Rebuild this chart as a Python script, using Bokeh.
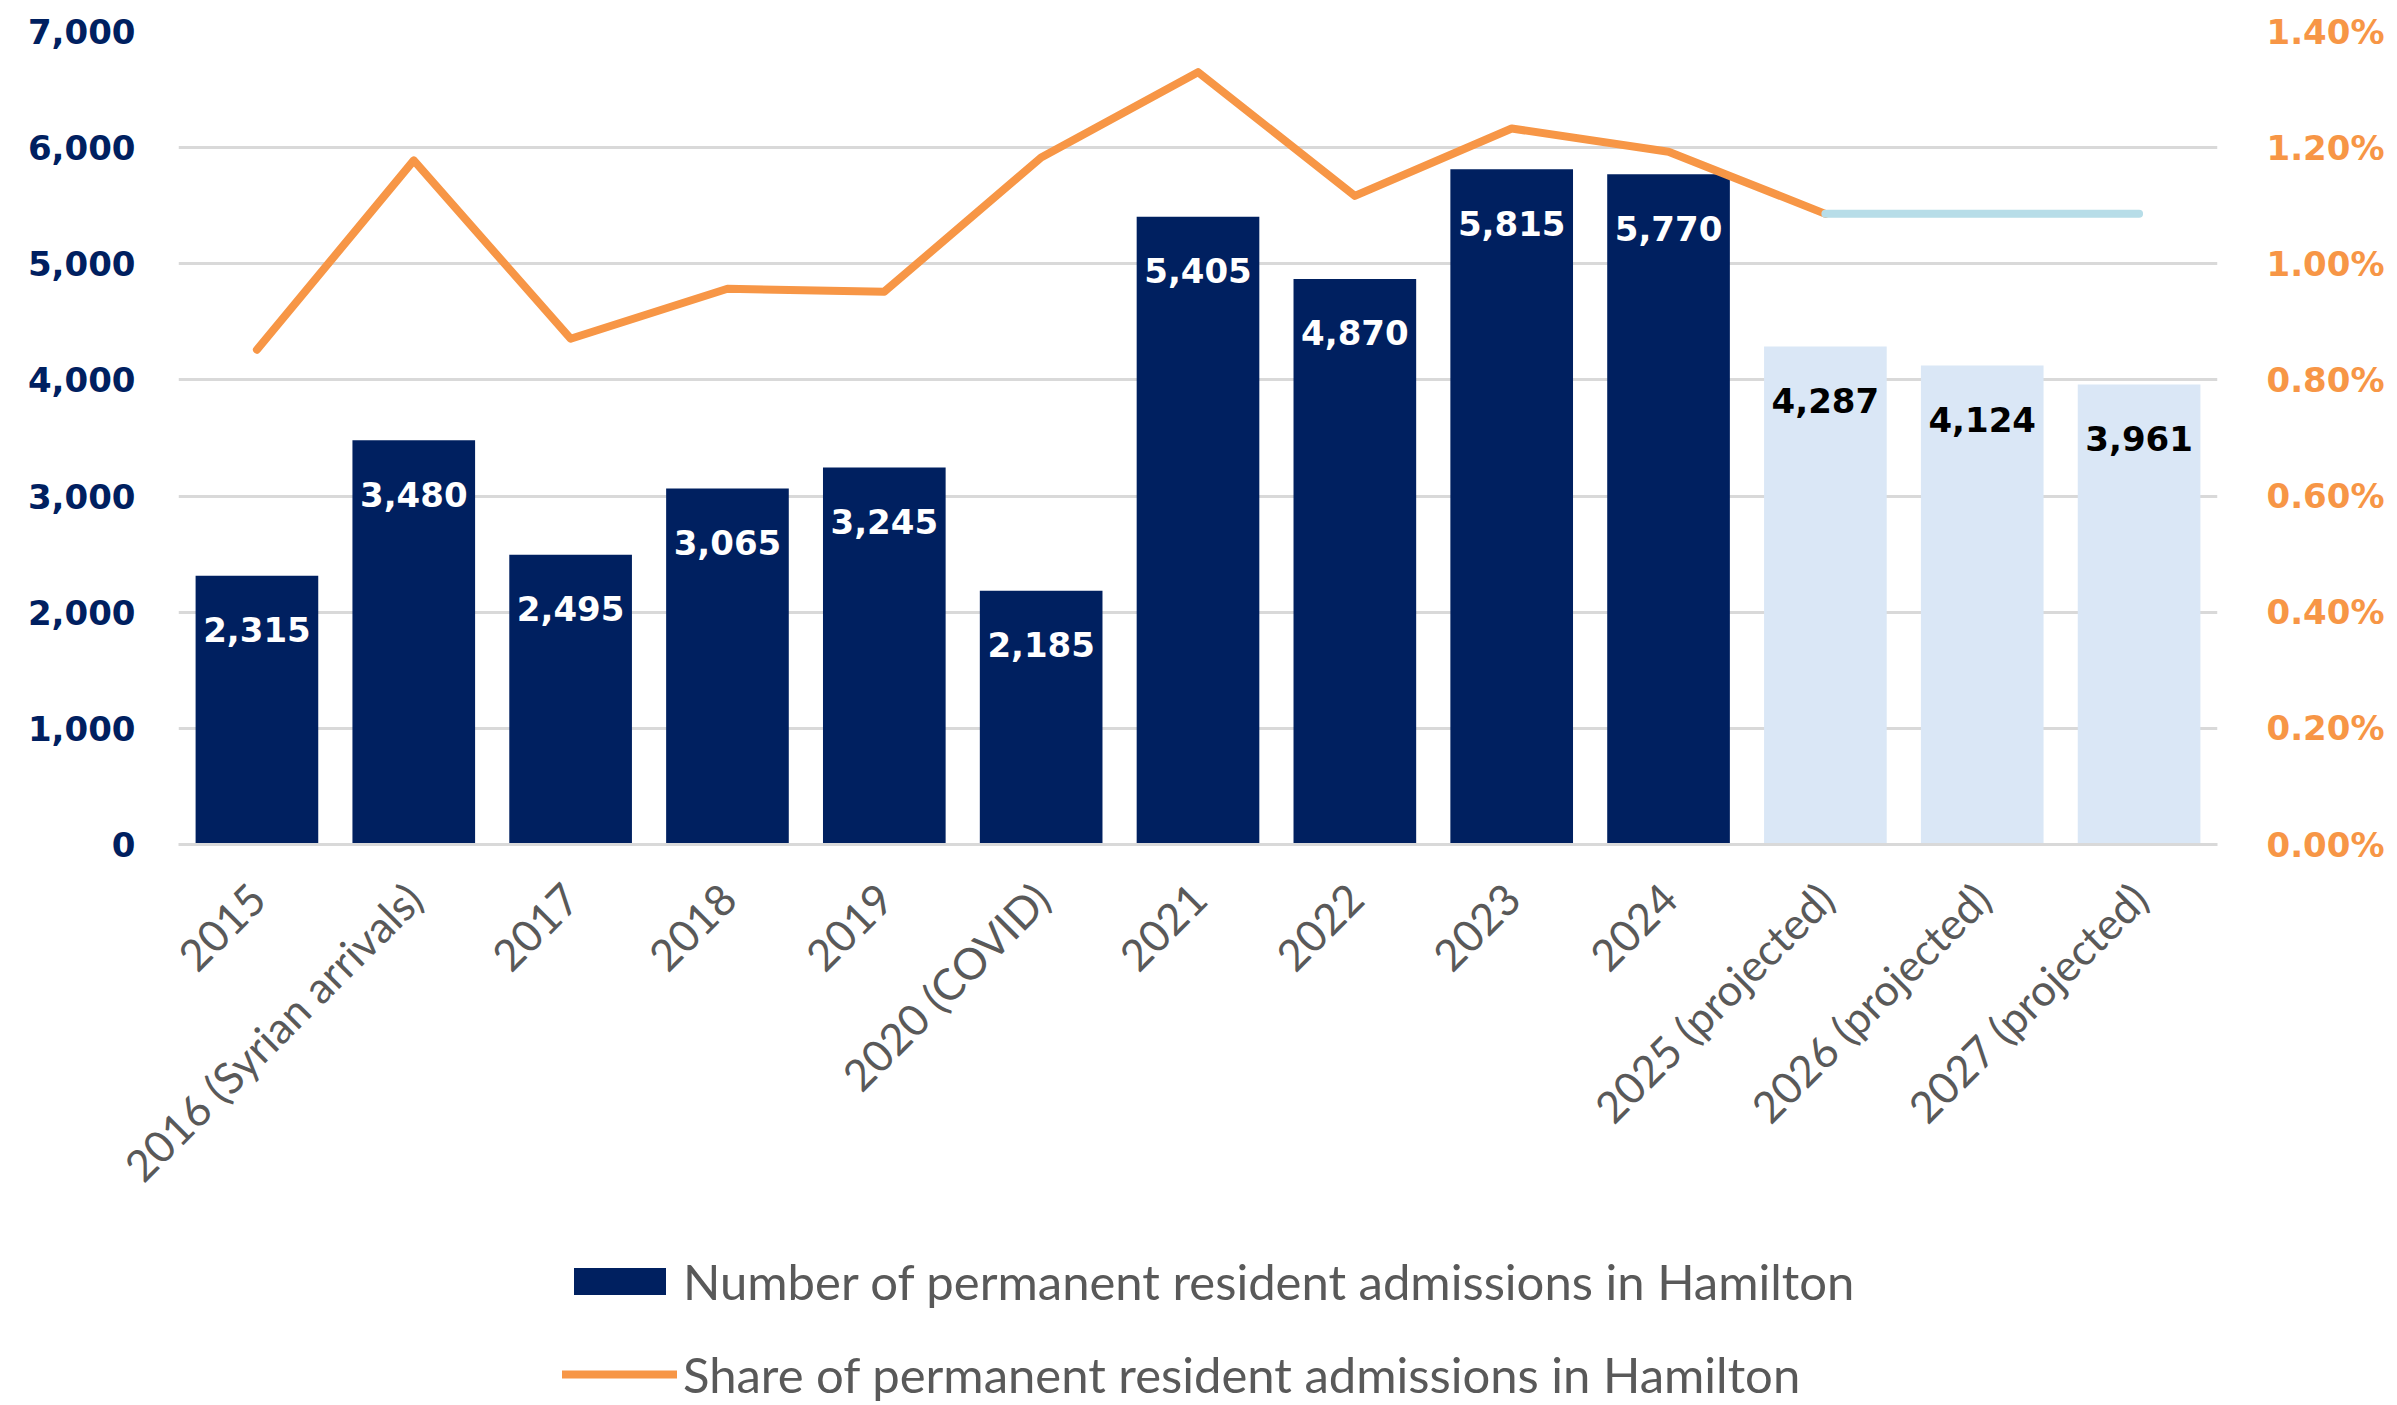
import math
from bokeh.plotting import figure
from bokeh.layouts import column
from bokeh.models import (Range1d, LinearAxis, FixedTicker, NumeralTickFormatter,
                          CustomJSTickFormatter, Legend, LegendItem, FactorRange)
from bokeh.embed import file_html
from bokeh.resources import INLINE
from bokeh.core.properties import value

# ---------------- data ----------------
categories = ["2015", "2016 (Syrian arrivals)", "2017", "2018", "2019", "2020 (COVID)",
              "2021", "2022", "2023", "2024", "2025 (projected)", "2026 (projected)",
              "2027 (projected)"]
actual_years = categories[:10]
actual_admissions = [2315, 3480, 2495, 3065, 3245, 2185, 5405, 4870, 5815, 5770]
projected_years = categories[10:]
projected_admissions = [4287, 4124, 3961]
share_years = categories[:11]
share_pct = [0.852, 1.178, 0.871, 0.957, 0.952, 1.183, 1.330, 1.117, 1.233, 1.193, 1.086]
projected_share_years = categories[10:]
projected_share_pct = [1.086, 1.086, 1.086]
left_ticks = [0, 1000, 2000, 3000, 4000, 5000, 6000, 7000]
right_ticks = [0.0, 0.2, 0.4, 0.6, 0.8, 1.0, 1.2, 1.4]
legend_labels = ["Number of permanent resident admissions in Hamilton",
                 "Share of permanent resident admissions in Hamilton"]

# ---------------- styles ----------------
NAVY = "#002060"
ORANGE = "#F79646"
PROJ_FILL = "#DAE7F6"
PROJ_LINE = "#B7DDE8"
GRID = "#D9D9D9"
GREY_TXT = "#595959"
NUM_FONT = "DejaVu Sans"
CAT_FONT = "Lato"

MAIN_H = 1212
x_range = FactorRange(factors=categories)
p = figure(x_range=x_range, y_range=Range1d(0, 7000),
           width=2397, height=MAIN_H, output_backend="svg", toolbar_location=None,
           min_border_left=178, min_border_right=180, min_border_top=31,
           min_border_bottom=MAIN_H - 847)
p.outline_line_color = None
p.background_fill_color = "white"
p.border_fill_color = "white"

p.extra_y_ranges = {"share": Range1d(0, 1.4)}

# bars
p.vbar(x=actual_years, top=actual_admissions, width=0.782,
       fill_color=NAVY, line_color=None)
p.vbar(x=projected_years, top=projected_admissions, width=0.782,
       fill_color=PROJ_FILL, line_color=None)

# value labels
p.text(x=actual_years, y=actual_admissions, text=[f"{v:,}" for v in actual_admissions],
       text_color="white", text_font=value(NUM_FONT), text_font_style="bold",
       text_font_size="34px", text_align="center", text_baseline="middle", y_offset=54)
p.text(x=projected_years, y=projected_admissions, text=[f"{v:,}" for v in projected_admissions],
       text_color="black", text_font=value(NUM_FONT), text_font_style="bold",
       text_font_size="34px", text_align="center", text_baseline="middle", y_offset=54)

# share lines
p.line(x=share_years, y=share_pct, y_range_name="share", line_color=ORANGE,
       line_width=8, line_cap="round", line_join="round")
p.line(x=projected_share_years, y=projected_share_pct, y_range_name="share",
       line_color=PROJ_LINE, line_width=8, line_cap="round")

# axes
yax = p.yaxis[0]
yax.ticker = FixedTicker(ticks=left_ticks)
yax.formatter = NumeralTickFormatter(format="0,0")
right = LinearAxis(y_range_name="share", ticker=FixedTicker(ticks=right_ticks),
                   formatter=CustomJSTickFormatter(code="return tick.toFixed(2) + '%';"))
p.add_layout(right, "right")

for ax, col, standoff in ((yax, NAVY, 37), (right, ORANGE, 43)):
    ax.axis_line_color = None
    ax.major_tick_line_color = None
    ax.minor_tick_line_color = None
    ax.major_label_text_font = NUM_FONT
    ax.major_label_text_font_style = "bold"
    ax.major_label_text_font_size = "34px"
    ax.major_label_text_color = col
    ax.major_label_standoff = standoff

xax = p.xaxis[0]
xax.axis_line_color = GRID
xax.axis_line_width = 3
xax.major_tick_line_color = None
xax.minor_tick_line_color = None
xax.major_label_orientation = math.pi / 4
xax.major_label_text_font = CAT_FONT
xax.major_label_text_font_size = "43.5px"
xax.major_label_text_color = GREY_TXT
xax.major_label_standoff = 40

p.xgrid.grid_line_color = None
p.ygrid.grid_line_color = GRID
p.ygrid.grid_line_width = 3

# ---------------- legend strip ----------------
# Same series drawn in a strip whose y-range lies well above the data, so the
# marks stay out of view and only their legend entries show.
LEG_H = 1405 - MAIN_H
pl = figure(x_range=x_range, y_range=Range1d(8000, 9000), width=2397, height=LEG_H,
            output_backend="svg", toolbar_location=None,
            x_axis_type=None, y_axis_type=None, min_border=0)
pl.outline_line_color = None
pl.xgrid.grid_line_color = None
pl.ygrid.grid_line_color = None
leg_bar = pl.vbar(x=actual_years, top=actual_admissions, width=0.782,
                  fill_color=NAVY, line_color=None)
leg_line = pl.line(x=share_years, y=share_pct, line_color=ORANGE, line_width=8,
                   line_cap="round")

legend = Legend(items=[
    LegendItem(label=legend_labels[0], renderers=[leg_bar]),
    LegendItem(label=legend_labels[1], renderers=[leg_line]),
], location=(384, 2), orientation="vertical")
legend.glyph_width = 115
legend.glyph_height = 34
legend.label_standoff = 6
legend.spacing = 35
legend.padding = 0
legend.margin = 0
legend.border_line_color = None
legend.background_fill_alpha = 0
legend.label_text_font = CAT_FONT
legend.label_text_font_size = "49px"
legend.label_text_color = GREY_TXT
pl.add_layout(legend)

layout = column(p, pl, spacing=0)
open("out.html", "w").write(file_html(layout, INLINE))
